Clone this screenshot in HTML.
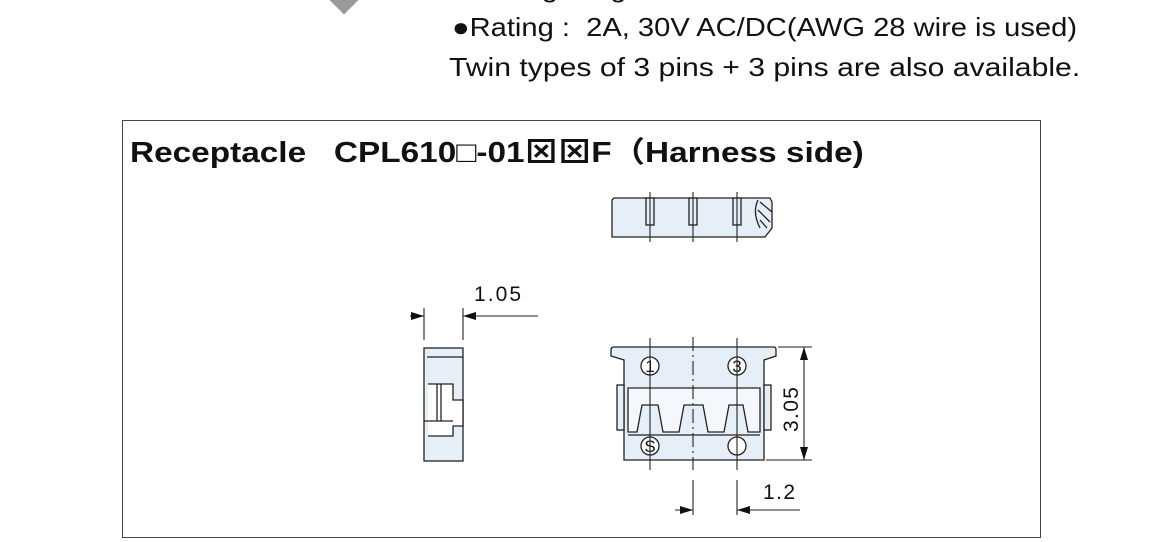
<!DOCTYPE html>
<html><head><meta charset="utf-8"><style>
html,body{margin:0;padding:0;background:#fff;width:1150px;height:542px;overflow:hidden;font-family:"Liberation Sans","Noto Sans CJK JP",sans-serif;}
.t{position:absolute;white-space:nowrap;color:#111;transform-origin:0 0;}
</style></head><body>
<div style="position:absolute;left:333px;top:-12px;width:22px;height:22px;background:#999;transform:rotate(45deg);"></div>
<div class="t" style="left:452px;top:-27px;font-size:26px;transform:scaleX(1.13);">●Mating Height : 1.2mm</div>
<div class="t" style="left:452px;top:12px;font-size:26px;transform:scaleX(1.12);">●Rating :&nbsp; 2A, 30V AC/DC(AWG 28 wire is used)</div>
<div class="t" style="left:449px;top:52px;font-size:26px;transform:scaleX(1.16);">Twin types of 3 pins + 3 pins are also available.</div>
<div style="position:absolute;left:122px;top:120px;width:917px;height:416px;border:1px solid #444;"></div>
<div class="t" style="left:130px;top:129px;font-size:29px;font-weight:bold;transform:scaleX(1.15);">Receptacle&nbsp;&nbsp; CPL610□-01⊠⊠F（Harness side)</div>
<svg width="1150" height="542" style="position:absolute;left:0;top:0" font-family="Liberation Sans, sans-serif">
<defs><marker id="a" markerUnits="userSpaceOnUse" markerWidth="13" markerHeight="8" refX="13" refY="4" orient="auto"><path d="M0,0L13,4L0,8z" fill="#111"/></marker></defs>
<g stroke="#222" stroke-width="1.3" fill="#e6eef8">
<path d="M612,200 L614,198 L770,198 L772,202 L772,228 L765,237 L612,237 Z"/>
<rect x="646" y="198" width="8" height="27"/><rect x="689" y="198" width="8" height="27"/><rect x="733" y="198" width="8" height="27"/>
<path d="M758,200 Q752,212 760,228" fill="none"/><path d="M760,202 L772,212 M758,210 L770,222 M760,220 L767,228" fill="none"/>
<rect x="424" y="348" width="39" height="113"/>
<line x1="427" y1="357" x2="463" y2="357"/>
<path d="M428,384 L453,384 L453,400 L463,400 L463,426 L453,426 L453,436 L428,436" fill="#fff"/>
<line x1="437" y1="384" x2="437" y2="421"/><line x1="441" y1="384" x2="441" y2="421"/>
<line x1="424" y1="421" x2="453" y2="421"/>
<path d="M611,350 Q611,347 614,347 L774,347 Q776,347 776,350 L776,356 L764,360 L764,460 L624,460 L624,360 L611,356 Z"/>
<rect x="617" y="385" width="7" height="45"/><rect x="764" y="385" width="7" height="45"/>
<path d="M628,388 L760,388 L760,432 L748,432 L743,405 L729,405 L724,432 L708,432 L703,405 L684,405 L679,432 L663,432 L658,405 L642,405 L637,432 L628,432 Z" fill="#f4f7fb"/>
<line x1="628" y1="435" x2="760" y2="435"/>
<g fill="#fff"><circle cx="650" cy="366" r="9"/><circle cx="737" cy="366" r="9"/><circle cx="650" cy="446" r="9"/><circle cx="737" cy="446" r="9"/></g>
</g>
<g font-size="17" fill="#111" text-anchor="middle"><text x="650" y="372">1</text><text x="737" y="372">3</text><text x="650" y="452">S</text></g>
<g stroke="#222" stroke-width="1.1" fill="none">
<line x1="650" y1="192" x2="650" y2="242"/><line x1="693" y1="192" x2="693" y2="242"/><line x1="737" y1="192" x2="737" y2="242"/>
<line x1="650" y1="338" x2="650" y2="470"/><line x1="737" y1="338" x2="737" y2="470"/>
<line x1="693" y1="337" x2="693" y2="470" stroke-dasharray="14,4,2,4"/>
<line x1="693" y1="480" x2="693" y2="515"/><line x1="737" y1="480" x2="737" y2="515"/>
<line x1="675" y1="510" x2="693" y2="510" marker-end="url(#a)"/><line x1="800" y1="510" x2="737" y2="510" marker-end="url(#a)"/>
<line x1="778" y1="347" x2="812" y2="347"/><line x1="766" y1="460" x2="812" y2="460"/>
<line x1="804" y1="400" x2="804" y2="347" marker-end="url(#a)"/><line x1="804" y1="400" x2="804" y2="460" marker-end="url(#a)"/>
<line x1="424" y1="308" x2="424" y2="340"/><line x1="463" y1="308" x2="463" y2="340"/>
<line x1="410" y1="316" x2="424" y2="316" marker-end="url(#a)"/><line x1="538" y1="316" x2="463" y2="316" marker-end="url(#a)"/>
</g>
<g font-size="21" fill="#111">
<text x="474" y="301" textLength="47">1.05</text><text x="763" y="499" textLength="32">1.2</text>
<text transform="translate(798,432) rotate(-90)" textLength="45">3.05</text>
</g>
</svg>
</body></html>
